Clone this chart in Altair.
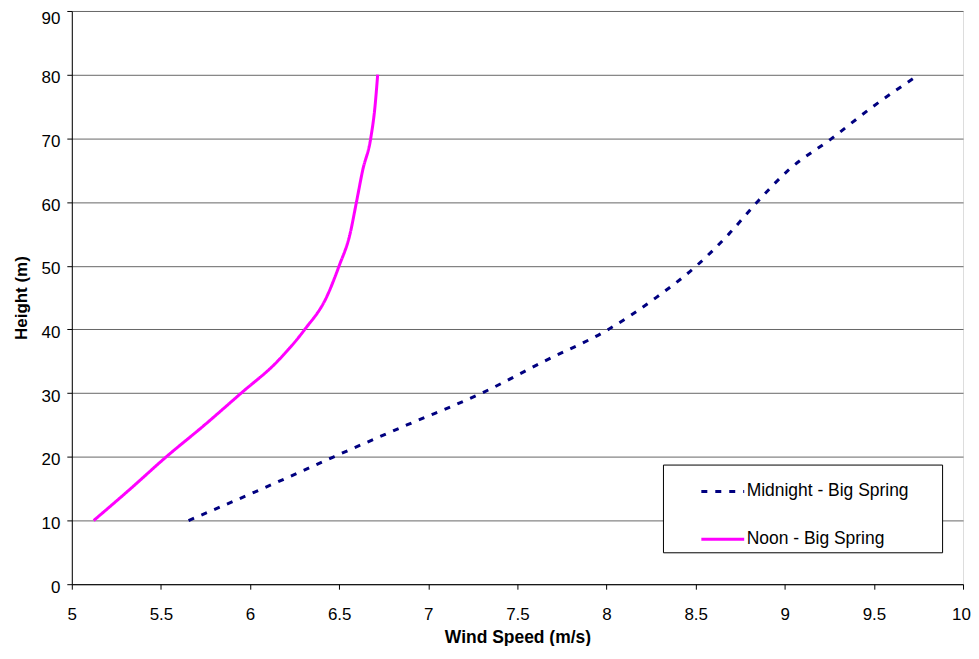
import altair as alt
import pandas as pd

# ---- data ----
heights = [10, 15, 20, 25, 30, 35, 40, 45, 50, 55, 60, 65, 70, 75, 80]
midnight_speed = [5.655, 6.07, 6.47, 6.88, 7.30, 7.65, 8.01, 8.278, 8.505, 8.687, 8.845, 9.02, 9.264, 9.495, 9.753]
noon_speed = [5.123, 5.33, 5.53, 5.745, 5.95, 6.154, 6.307, 6.428, 6.50, 6.561, 6.597, 6.632, 6.677, 6.701, 6.716]
series_names = ["Midnight - Big Spring", "Noon - Big Spring"]
series_colors = ["#000080", "#FF00FF"]
series_dashes = [[6, 8], [1, 0]]
x_ticks = [5, 5.5, 6, 6.5, 7, 7.5, 8, 8.5, 9, 9.5, 10]
y_ticks = [0, 10, 20, 30, 40, 50, 60, 70, 80, 90]

rows = []
for name, speeds in zip(series_names, [midnight_speed, noon_speed]):
    for h, s in zip(heights, speeds):
        rows.append({"series": name, "height": h, "speed": s})
df = pd.DataFrame(rows)

FONT = "Liberation Sans"

legend = alt.Legend(
    title="\u00a0",
    titleOrient="right",
    titlePadding=30,
    titleFont=FONT,
    titleFontSize=17.5,
    orient="none",
    legendX=593,
    legendY=455,
    direction="vertical",
    symbolType="stroke",
    symbolSize=1849,
    symbolStrokeWidth=3,
    symbolOffset=33,
    labelFont=FONT,
    labelFontSize=17.5,
    labelColor="black",
    labelOffset=1,
    labelLimit=400,
    padding=4,
    rowPadding=16,
    strokeColor="black",
    fillColor="white",
    cornerRadius=0,
)

chart = (
    alt.Chart(df)
    .mark_line(interpolate="monotone", strokeWidth=3, strokeCap="butt")
    .encode(
        x=alt.X(
            "speed:Q",
            scale=alt.Scale(domain=[5, 10], nice=False, zero=False),
            axis=alt.Axis(
                values=x_ticks,
                format=".1~f",
                title="Wind Speed (m/s)",
                grid=False,
                domainColor="black",
                tickColor="black",
                tickSize=5,
                labelFont=FONT,
                labelFontSize=17,
                labelColor="black",
                labelPadding=17,
                labelFlush=False,
                labelOffset={"condition": {"test": "datum.value == 10", "value": -2}, "value": 0},
                titleFont=FONT,
                titleFontSize=17.5,
                titleFontWeight="bold",
                titleColor="black",
                titleBaseline="alphabetic",
                titleY=58,
            ),
        ),
        y=alt.Y(
            "height:Q",
            scale=alt.Scale(domain=[0, 90], nice=False),
            axis=alt.Axis(
                values=y_ticks,
                format="d",
                title="Height (m)",
                grid=True,
                gridColor="#666666",
                gridWidth=1,
                domainColor="black",
                tickColor="black",
                tickSize=5,
                labelFont=FONT,
                labelFontSize=17,
                labelColor="black",
                labelPadding=7,
                labelFlush=False,
                labelOffset={"condition": {"test": "datum.value == 90", "value": 8}, "value": 3},
                titleFont=FONT,
                titleFontSize=17,
                titleFontWeight="bold",
                titleColor="black",
                titleAngle=270,
                titleAlign="center",
                titleBaseline="alphabetic",
                titleX=-45,
                titleY=287.5,
            ),
        ),
        color=alt.Color(
            "series:N",
            scale=alt.Scale(domain=series_names, range=series_colors),
            legend=legend,
        ),
        strokeDash=alt.StrokeDash(
            "series:N",
            scale=alt.Scale(domain=series_names, range=series_dashes),
            legend=legend,
        ),
        order=alt.Order("height:Q"),
    )
    .properties(
        width=894,
        height=575,
        autosize=alt.AutoSizeParams(type="none"),
        padding={"left": 64, "top": 2, "right": 8, "bottom": 61},
    )
    .configure_view(stroke="#808080", strokeWidth=1)
    .configure(background="white")
)

chart.save("out.html", embed_options={"renderer": "svg", "actions": False})
